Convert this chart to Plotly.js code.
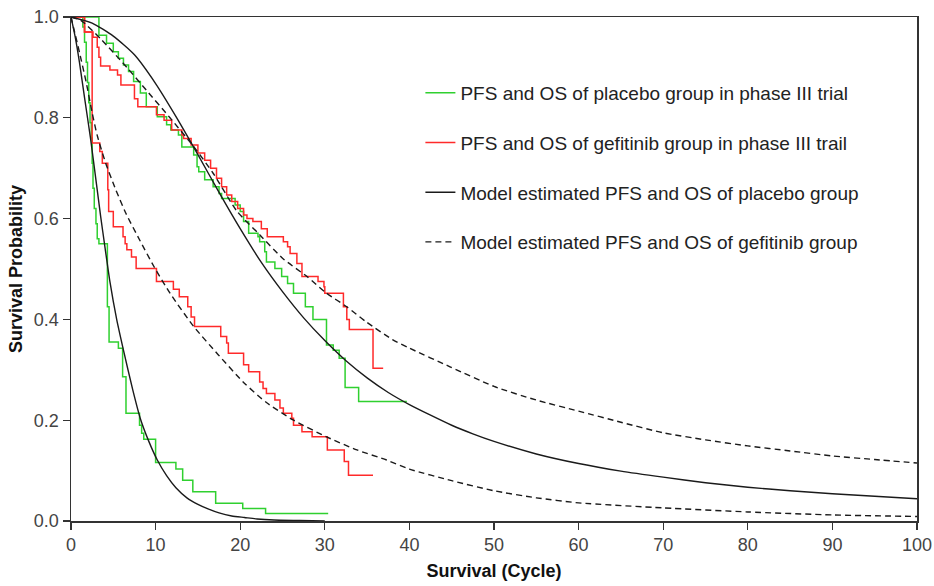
<!DOCTYPE html>
<html>
<head>
<meta charset="utf-8">
<script src="https://cdn.plot.ly/plotly-3.0.1.min.js"></script>
<style>
  html, body { margin: 0; padding: 0; background: #fff; }
  #chart { width: 934px; height: 586px; }
</style>
</head>
<body>
<div id="chart"></div>
<script>
// ---- Kaplan-Meier step data ----
const pfsPlaceboTime = [0,1.4,1.6,1.8,1.95,2.1,2.25,2.4,2.5,2.6,2.75,2.95,3.1,3.3,4.3,4.5,5.6,6.1,6.5,8.1,8.35,8.6,10.0,12.4,13.2,14.4,17.1,20.3,23.0,30.4];
const pfsPlaceboSurv = [1.0,0.98,0.95,0.91,0.87,0.83,0.79,0.76,0.71,0.66,0.62,0.59,0.56,0.55,0.425,0.355,0.343,0.286,0.214,0.19,0.174,0.162,0.116,0.103,0.081,0.058,0.035,0.025,0.015,0.015];

const osPlaceboTime = [0,3.3,4.2,5.0,5.6,6.2,6.8,7.4,8.2,8.9,10.2,11.3,11.8,12.7,13.1,14.5,14.9,15.1,15.8,16.8,17.5,17.8,19.4,20.0,20.4,21.0,22.1,22.3,22.9,23.1,24.1,24.9,25.6,26.3,27.7,28.6,30.2,31.0,31.7,32.4,34.0,39.7];
const osPlaceboSurv = [1.0,0.964,0.948,0.931,0.918,0.905,0.892,0.872,0.849,0.822,0.802,0.786,0.776,0.766,0.742,0.726,0.703,0.693,0.677,0.663,0.65,0.64,0.627,0.614,0.594,0.571,0.564,0.554,0.534,0.514,0.501,0.485,0.471,0.452,0.425,0.40,0.349,0.339,0.323,0.265,0.237,0.237];

const pfsGefTime = [0,1.6,2.5,3.4,3.7,4.35,4.45,5.0,6.15,6.4,6.6,7.15,7.7,10.1,12.1,12.8,13.8,14.2,14.6,17.7,18.4,18.6,20.4,21.0,22.3,22.7,23.1,24.1,24.7,25.1,26.1,26.3,27.3,28.5,30.3,32.3,32.8,35.7];
const pfsGefSurv = [1.0,0.97,0.75,0.733,0.71,0.657,0.614,0.584,0.564,0.55,0.538,0.524,0.501,0.475,0.46,0.445,0.425,0.405,0.386,0.366,0.353,0.333,0.31,0.296,0.276,0.263,0.253,0.24,0.224,0.214,0.204,0.19,0.177,0.167,0.141,0.118,0.091,0.091];

const osGefTime = [0,1.6,2.6,3.1,3.3,3.5,4.6,5.5,5.9,7.5,7.9,10.1,11.0,11.9,13.1,13.3,14.2,15.0,15.8,16.5,17.2,17.8,18.4,19.0,19.7,20.4,20.8,21.5,22.5,23.2,25.1,25.6,25.9,26.7,27.3,29.2,29.9,30.0,32.2,32.6,32.9,35.7,36.9];
const osGefSurv = [1.0,0.97,0.96,0.94,0.92,0.903,0.895,0.885,0.865,0.838,0.822,0.806,0.795,0.776,0.766,0.759,0.746,0.73,0.716,0.70,0.68,0.663,0.647,0.634,0.62,0.607,0.60,0.594,0.58,0.564,0.554,0.544,0.531,0.511,0.485,0.475,0.465,0.452,0.425,0.40,0.38,0.303,0.303];

// ---- Model estimated curves ----
const modelPfsPlaceboTime = [0,0.5,1.0,1.6,2.3,3.0,3.5,4.0,4.6,5.4,6.2,7.3,8.2,9.2,10.2,11.3,12.4,13.7,15.0,16.2,17.5,19.0,20.5,22,24,27,30];
const modelPfsPlaceboSurv = [1.0,0.96,0.91,0.84,0.76,0.67,0.605,0.545,0.475,0.40,0.339,0.26,0.203,0.158,0.121,0.09,0.066,0.046,0.033,0.024,0.016,0.010,0.007,0.004,0.002,0.001,0.0];

const modelOsPlaceboTime = [0,2.5,5,7.5,10,12.5,15,17.5,20,22.5,25,27.5,30,32.5,35,37.5,40,42.5,45,47.5,50,55,60,65,70,75,80,85,90,95,100];
const modelOsPlaceboSurv = [1.0,0.988,0.962,0.925,0.868,0.80,0.727,0.652,0.58,0.513,0.455,0.403,0.358,0.318,0.284,0.255,0.231,0.21,0.19,0.173,0.158,0.133,0.114,0.099,0.087,0.076,0.067,0.060,0.054,0.049,0.044];

const modelPfsGefTime = [0,0.5,1.0,1.8,2.5,3.1,4.1,5.3,6.5,8.1,9.8,11.7,14.5,17.4,20.4,23.1,26.3,30.2,33.8,37.3,40,45,50,55,60,70,80,90,100];
const modelPfsGefSurv = [1.0,0.965,0.93,0.87,0.81,0.765,0.71,0.657,0.61,0.558,0.505,0.452,0.386,0.33,0.275,0.235,0.20,0.167,0.141,0.121,0.103,0.08,0.06,0.046,0.036,0.026,0.018,0.012,0.009];

const modelOsGefTime = [0,1.2,3.6,6.6,8.9,11.7,14.5,16.8,19.6,22.3,25.1,27.9,30.2,32.6,34.9,38,40,44.8,50,55,60,65,70,75,80,85,90,95,100];
const modelOsGefSurv = [1.0,0.993,0.955,0.90,0.855,0.80,0.743,0.69,0.615,0.568,0.52,0.485,0.452,0.425,0.395,0.36,0.343,0.306,0.267,0.24,0.218,0.196,0.175,0.161,0.149,0.139,0.129,0.122,0.115];

const legendNames = [
  'PFS and OS of placebo group in phase III trial',
  'PFS and OS of gefitinib group in phase III trail',
  'Model estimated PFS and OS of placebo group',
  'Model estimated PFS and OS of gefitinib group'
];
const xTicks = [0,10,20,30,40,50,60,70,80,90,100];
const yTicks = [0,0.2,0.4,0.6,0.8,1.0];

const GREEN = '#2fd02f', RED = '#ff2a2a', BLACK = '#1a1a1a';

function km(x, y, color, name, group, show) {
  return { x: x, y: y, type: 'scatter', mode: 'lines', line: { shape: 'hv', color: color, width: 1.5 },
           name: name, legendgroup: group, showlegend: show, hoverinfo: 'skip' };
}
function model(x, y, dash, name, group, show) {
  return { x: x, y: y, type: 'scatter', mode: 'lines',
           line: { shape: 'spline', smoothing: 0.6, color: BLACK, width: 1.4, dash: dash },
           name: name, legendgroup: group, showlegend: show, hoverinfo: 'skip' };
}

const traces = [
  km(pfsPlaceboTime, pfsPlaceboSurv, GREEN, legendNames[0], 'g1', true),
  km(osPlaceboTime, osPlaceboSurv, GREEN, legendNames[0], 'g1', false),
  km(pfsGefTime, pfsGefSurv, RED, legendNames[1], 'g2', true),
  km(osGefTime, osGefSurv, RED, legendNames[1], 'g2', false),
  model(modelPfsPlaceboTime, modelPfsPlaceboSurv, 'solid', legendNames[2], 'g3', true),
  model(modelOsPlaceboTime, modelOsPlaceboSurv, 'solid', legendNames[2], 'g3', false),
  model(modelPfsGefTime, modelPfsGefSurv, '6px,4px', legendNames[3], 'g4', true),
  model(modelOsGefTime, modelOsGefSurv, '6px,4px', legendNames[3], 'g4', false)
];

const tickFont = { family: 'Liberation Sans Narrow, Arial Narrow, Liberation Sans, Arial, sans-serif', size: 18, color: '#444' };
const titleFont = { family: 'Liberation Sans, Arial, sans-serif', size: 18, color: '#111' };

const layout = {
  width: 934, height: 586,
  margin: { l: 71, r: 17, t: 17, b: 65 },
  paper_bgcolor: '#fff', plot_bgcolor: '#fff',
  showlegend: true,
  legend: {
    x: 0.413, y: 0.887, xanchor: 'left', yanchor: 'top',
    bgcolor: 'rgba(0,0,0,0)', borderwidth: 0,
    traceorder: 'grouped', tracegroupgap: 22,
    font: { family: 'Liberation Sans, Arial, sans-serif', size: 19, color: '#222' }
  },
  xaxis: {
    range: [0, 100], tickvals: xTicks, ticktext: xTicks.map(String),
    ticks: 'outside', ticklen: 7, tickwidth: 1.3, tickcolor: '#333',
    showline: true, linecolor: '#333', linewidth: 1.5, mirror: true,
    showgrid: false, zeroline: false, tickfont: tickFont,
    title: { text: '<b>Survival (Cycle)</b>', font: titleFont, standoff: 10 }
  },
  yaxis: {
    range: [0, 1], tickvals: yTicks, ticktext: yTicks.map(v => v.toFixed(1)),
    ticks: 'outside', ticklen: 7, tickwidth: 1.3, tickcolor: '#333',
    showline: true, linecolor: '#333', linewidth: 1.5, mirror: true,
    showgrid: false, zeroline: false, tickfont: tickFont,
    title: { text: '<b>Survival Probability</b>', font: titleFont, standoff: 6 }
  }
};

Plotly.newPlot('chart', traces, layout, { staticPlot: true, displayModeBar: false });
</script>
</body>
</html>
